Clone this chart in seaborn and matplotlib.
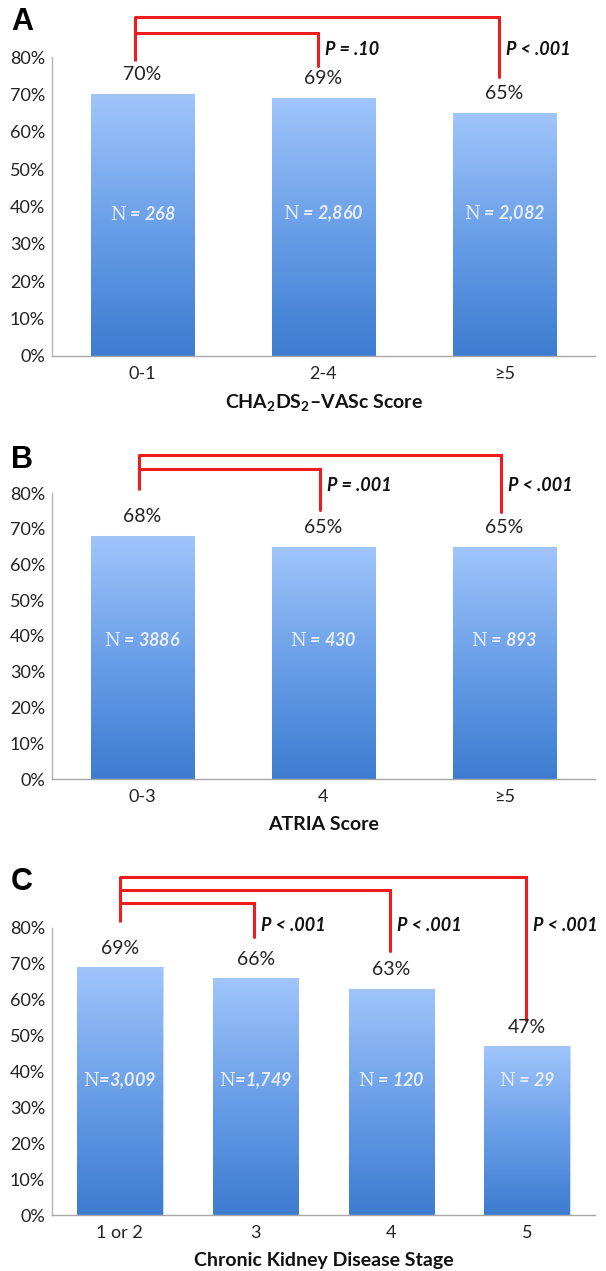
import numpy as np
import pandas as pd
import matplotlib
matplotlib.use("Agg")
import matplotlib.pyplot as plt
import seaborn as sns
from matplotlib.colors import LinearSegmentedColormap

sns.set_style("white")
plt.rcParams["font.family"] = ["Lato", "DejaVu Sans"]
plt.rcParams["mathtext.fontset"] = "custom"
plt.rcParams["mathtext.rm"] = "DejaVu Serif"
plt.rcParams["mathtext.bf"] = "Lato:bold"

# ---- data ----
cha_groups = ["0-1", "2-4", "≥5"]
cha_pct = [70, 69, 65]
cha_n = ["N = 268", "N = 2,860", "N = 2,082"]
cha_p = ["P = .10", "P < .001"]

atria_groups = ["0-3", "4", "≥5"]
atria_pct = [68, 65, 65]
atria_n = ["N = 3886", "N = 430", "N = 893"]
atria_p = ["P = .001", "P < .001"]

ckd_groups = ["1 or 2", "3", "4", "5"]
ckd_pct = [69, 66, 63, 47]
ckd_n = ["N=3,009", "N=1,749", "N = 120", "N = 29"]
ckd_p = ["P < .001", "P < .001", "P < .001"]

W, H = 606, 1271
fig = plt.figure(figsize=(W / 100, H / 100), dpi=100)

grad = LinearSegmentedColormap.from_list("bar", ["#3d7cd0", "#6a9fe8", "#a0c5fb"])
RED = "#ee1c1c"


def axes_box(y0_px, y80_px, x0_px=52, x1_px=595):
    return [x0_px / W, 1 - y0_px / H, (x1_px - x0_px) / W, (y0_px - y80_px) / H]


def panel(box, letter, letter_y, groups, pct, n_labels, p_labels, xlabel,
          width, levels, left_x, left_bottom, drops, drop_dx, p_y, n_y):
    ax = fig.add_axes(box)
    df = pd.DataFrame({"group": groups, "pct": pct})
    sns.barplot(data=df, x="group", y="pct", ax=ax, width=width,
                color="#6a9fe8", edgecolor="#c9dbf3", linewidth=0.8)
    ax.set_ylim(0, 80)
    ax.set_yticks(range(0, 81, 10))
    ax.set_yticklabels([f"{t}%" for t in range(0, 81, 10)])
    ax.tick_params(axis="both", length=0, labelsize=13, colors="#222222")
    ax.tick_params(axis="y", pad=5)
    ax.tick_params(axis="x", pad=7)
    for s in ["top", "right"]:
        ax.spines[s].set_visible(False)
    ax.spines["left"].set_color("#b5b5b5")
    ax.spines["bottom"].set_color("#a8a8a8")
    ax.spines["left"].set_linewidth(1.0)
    ax.spines["bottom"].set_linewidth(1.0)
    ax.set_ylabel("")
    ax.set_xlabel(xlabel, fontsize=14, fontweight="bold", color="#111111", labelpad=8)

    # vertical gradient inside each bar
    g = np.linspace(0, 1, 256).reshape(-1, 1)
    for patch in ax.patches:
        x0, y0 = patch.get_x(), patch.get_y()
        w, h = patch.get_width(), patch.get_height()
        im = ax.imshow(g, cmap=grad, origin="lower", aspect="auto",
                       extent=[x0, x0 + w, y0, y0 + h], zorder=2)
        im.set_clip_path(patch)
    ax.set_xlim(-0.5, len(groups) - 0.5)
    ax.set_ylim(0, 80)

    for i, (v, nl) in enumerate(zip(pct, n_labels)):
        ax.text(i, v + 5.3, f"{v}%", ha="center", va="center", fontsize=14,
                color="#222222", clip_on=False)
        ax.text(i, n_y, nl.replace("N", r"$\mathrm{N}$", 1), ha="center", va="center",
                fontsize=13, fontweight="bold", fontstyle="italic",
                color="#e6edf8", zorder=5)

    # significance brackets: outermost level first
    top = levels[0]
    ax.plot([left_x, left_x], [left_bottom, top], color=RED, lw=2.2,
            clip_on=False, solid_capstyle="butt")
    for k, (lvl, dv) in enumerate(zip(levels, drops)):
        j = len(p_labels) - k
        xr = j + drop_dx
        ax.plot([left_x, xr, xr], [lvl, lvl, dv], color=RED, lw=2.2,
                clip_on=False, solid_joinstyle="miter")
        ax.annotate(p_labels[j - 1], xy=(xr, p_y), xytext=(5, 0),
                    textcoords="offset points", ha="left", va="center",
                    fontsize=13, fontweight="bold", fontstyle="italic",
                    color="#111111", annotation_clip=False)

    fig.text(11 / W, 1 - letter_y / H, letter, fontsize=22, fontweight="bold",
             family="Liberation Sans", ha="left", va="center", color="#000000")
    return ax


panel(axes_box(356, 57), "A", 22, cha_groups, cha_pct, cha_n, cha_p,
      r"CHA$_\mathbf{2}$DS$_\mathbf{2}$–VASc Score", 0.57,
      levels=[90.6, 86.4], left_x=-0.04, left_bottom=79.0,
      drops=[74.6, 77.5], drop_dx=-0.03, p_y=82.0, n_y=38)

panel(axes_box(779, 493), "B", 460, atria_groups, atria_pct, atria_n, atria_p,
      "ATRIA Score", 0.57,
      levels=[90.6, 86.7], left_x=-0.02, left_bottom=80.8,
      drops=[74.7, 75.2], drop_dx=-0.02, p_y=82.0, n_y=39)

panel(axes_box(1215, 928), "C", 882, ckd_groups, ckd_pct, ckd_n, ckd_p,
      "Chronic Kidney Disease Stage", 0.63,
      levels=[94.2, 90.5, 86.9], left_x=0.0, left_bottom=81.6,
      drops=[54.3, 73.5, 77.4], drop_dx=-0.01, p_y=80.8, n_y=37.5)

fig.savefig("out.png", dpi=100, facecolor="white")
